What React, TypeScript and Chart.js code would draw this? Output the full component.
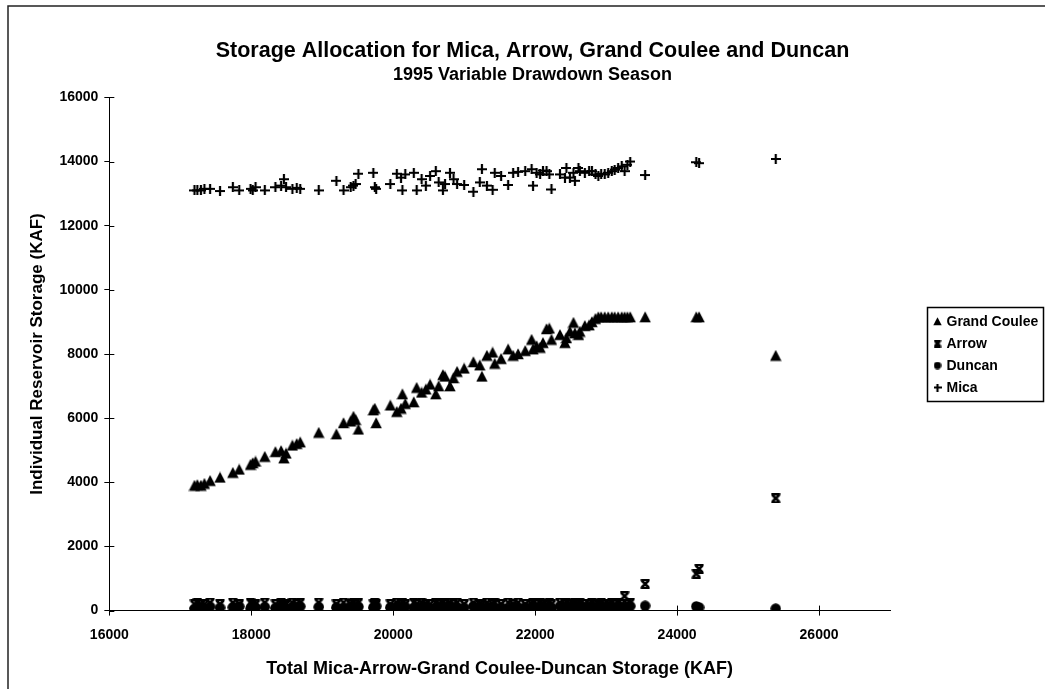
import React, { useEffect, useRef } from "react";
import { Chart, registerables } from "chart.js";

Chart.register(...registerables);

// ---------------- DATA ----------------
const titleText = "Storage Allocation for Mica, Arrow, Grand Coulee and Duncan";
const subtitleText = "1995 Variable Drawdown Season";
const xAxisTitle = "Total Mica-Arrow-Grand Coulee-Duncan Storage (KAF)";
const yAxisTitle = "Individual Reservoir Storage (KAF)";

const xTicks = [16000, 18000, 20000, 22000, 24000, 26000];
const yTicks = [0, 2000, 4000, 6000, 8000, 10000, 12000, 14000, 16000];

const seriesNames = ["Grand Coulee", "Arrow", "Duncan", "Mica"];

// total system storage (x) for each scenario
const totals = [
  17200, 17240, 17290, 17340, 17420, 17560, 17740, 17830, 17990, 18020,
  18060, 18190, 18340, 18420, 18460, 18490, 18580, 18640, 18690, 18950,
  19200, 19300, 19400, 19440, 19470, 19510, 19720, 19740, 19760, 19960,
  20050, 20110, 20130, 20170, 20290, 20330, 20400, 20460, 20520, 20600,
  20640, 20700, 20730, 20800, 20850, 20900, 21000, 21130, 21220, 21250,
  21320, 21400, 21430, 21520, 21620, 21690, 21760, 21860, 21950, 21970,
  22020, 22070, 22110, 22160, 22200, 22230, 22350, 22420, 22440, 22490,
  22540, 22560, 22610, 22630, 22700, 22760, 22800, 22850, 22890, 22930,
  22980, 23030, 23080, 23120, 23170, 23220, 23260, 23300, 23340, 23550,
  24270, 24310, 25390,
];

const grandCoulee = [
  3900, 3920, 3900, 3960, 4050, 4150, 4300, 4400, 4550, 4600,
  4650, 4800, 4950, 4980, 4750, 4900, 5150, 5200, 5250, 5550,
  5500, 5850, 5900, 6050, 5950, 5650, 6250, 6300, 5850, 6400,
  6200, 6300, 6750, 6450, 6500, 6950, 6800, 6900, 7050, 6750,
  7000, 7350, 7300, 7000, 7250, 7450, 7550, 7750, 7650, 7300,
  7950, 8050, 7700, 7850, 8150, 7950, 8000, 8100, 8450, 8150,
  8250, 8200, 8350, 8780, 8800, 8450, 8600, 8350, 8500, 8700,
  8980, 8650, 8600, 8700, 8880, 8900, 9000, 9100, 9150, 9150,
  9150, 9150, 9150, 9150, 9150, 9150, 9150, 9150, 9150, 9150,
  9150, 9150, 7950,
];

const arrow = [
  200, 250, 200, 200, 250, 200, 250, 200, 250, 200,
  200, 250, 200, 250, 200, 200, 250, 200, 250, 250,
  200, 250, 200, 250, 200, 250, 200, 250, 200, 200,
  250, 200, 250, 200, 250, 200, 250, 200, 200, 250,
  200, 250, 200, 250, 200, 250, 200, 250, 200, 200,
  250, 200, 250, 200, 250, 200, 250, 200, 200, 250,
  200, 250, 200, 200, 250, 200, 250, 200, 250, 200,
  200, 250, 200, 250, 200, 200, 250, 200, 200, 250,
  200, 200, 250, 200, 250, 200, 450, 200, 250, 830,
  1150, 1300, 3500,
];

const duncan = [
  50, 80, 100, 60, 120, 90, 100, 130, 60, 150,
  100, 110, 80, 140, 100, 60, 120, 90, 130, 110,
  100, 80, 140, 100, 60, 120, 100, 80, 140, 100,
  130, 60, 100, 120, 80, 110, 90, 140, 60, 100,
  120, 80, 110, 130, 60, 100, 90, 140, 100, 70,
  110, 130, 80, 100, 60, 120, 90, 110, 100, 130,
  70, 100, 120, 80, 110, 90, 140, 100, 60, 120,
  100, 80, 110, 130, 90, 100, 120, 60, 100, 110,
  90, 130, 100, 70, 120, 100, 80, 110, 140, 150,
  130, 100, 60,
];

const mica = [
  13100, 13100, 13100, 13150, 13150, 13080, 13200, 13100, 13150, 13100,
  13200, 13100, 13200, 13250, 13450, 13200, 13150, 13180, 13150, 13100,
  13400, 13100, 13200, 13250, 13300, 13620, 13650, 13200, 13150, 13300,
  13620, 13500, 13100, 13600, 13650, 13100, 13450, 13250, 13550, 13700,
  13350, 13100, 13300, 13650, 13450, 13300, 13270, 13060, 13350, 13760,
  13250, 13120, 13650, 13550, 13270, 13650, 13680, 13700, 13760, 13250,
  13650, 13600, 13720, 13700, 13600, 13130, 13600, 13500, 13800, 13500,
  13650, 13400, 13800, 13700, 13650, 13700, 13700, 13600, 13550, 13620,
  13600, 13650, 13700, 13750, 13800, 13850, 13700, 13900, 14000, 13580,
  13980, 13950, 14080,
];

// ---------------- STYLE HELPERS ----------------
const FONT = "'Liberation Sans', Arial, Helvetica, sans-serif";

function makeMarker(kind: string, s: number): HTMLCanvasElement {
  const c = document.createElement("canvas");
  c.width = s;
  c.height = s;
  const g = c.getContext("2d") as CanvasRenderingContext2D;
  g.fillStyle = "#000";
  g.strokeStyle = "#000";
  if (kind === "triangle") {
    g.beginPath();
    g.moveTo(s / 2, 0.3);
    g.lineTo(s - 0.3, s - 0.8);
    g.lineTo(0.3, s - 0.8);
    g.closePath();
    g.fill();
  } else if (kind === "circle") {
    g.beginPath();
    g.arc(s / 2, s / 2, s / 2 - 0.3, 0, Math.PI * 2);
    g.fill();
  } else if (kind === "plus") {
    g.lineWidth = 2.2;
    g.beginPath();
    g.moveTo(s / 2, 0);
    g.lineTo(s / 2, s);
    g.moveTo(0, s / 2);
    g.lineTo(s, s / 2);
    g.stroke();
  } else if (kind === "hourglass") {
    g.lineWidth = 2.6;
    g.beginPath();
    g.moveTo(1.5, 1.5);
    g.lineTo(s - 1.5, s - 1.5);
    g.moveTo(s - 1.5, 1.5);
    g.lineTo(1.5, s - 1.5);
    g.stroke();
    g.lineWidth = 2;
    g.beginPath();
    g.moveTo(0.5, 1);
    g.lineTo(s - 0.5, 1);
    g.moveTo(0.5, s - 1);
    g.lineTo(s - 0.5, s - 1);
    g.stroke();
  }
  return c;
}

export default function App() {
  const ref = useRef<HTMLCanvasElement | null>(null);

  useEffect(() => {
    const canvas = ref.current;
    if (!canvas) return;

    const markers = [
      makeMarker("triangle", 12),
      makeMarker("hourglass", 10),
      makeMarker("circle", 11),
      makeMarker("plus", 10),
    ];
    const legendMarkers = [
      makeMarker("triangle", 9),
      makeMarker("hourglass", 8),
      makeMarker("circle", 8),
      makeMarker("plus", 8),
    ];
    const seriesValues = [grandCoulee, arrow, duncan, mica];

    const datasets = seriesNames.map((name, i) => ({
      label: name,
      data: totals.map((t, k) => ({ x: t, y: seriesValues[i][k] })),
      pointStyle: markers[i],
      pointRadius: 6,
      pointHoverRadius: 6,
      showLine: false,
      backgroundColor: "#000",
      borderColor: "#000",
    }));

    const framePlugin = {
      id: "frame",
      beforeDraw(chart: any) {
        const c = chart.ctx;
        c.save();
        c.fillStyle = "#fff";
        c.fillRect(0, 0, chart.width, chart.height);
        c.strokeStyle = "#222";
        c.lineWidth = 1.5;
        c.beginPath();
        c.moveTo(8, chart.height);
        c.lineTo(8, 6);
        c.lineTo(chart.width, 6);
        c.stroke();
        c.restore();
      },
    };

    const innerTicksPlugin = {
      id: "innerTicks",
      afterDraw(chart: any) {
        const c = chart.ctx;
        const xs = chart.scales.x;
        const ys = chart.scales.y;
        const ca = chart.chartArea;
        c.save();
        c.strokeStyle = "#000";
        c.lineWidth = 1;
        c.beginPath();
        xs.ticks.forEach((t: any) => {
          const px = Math.round(xs.getPixelForValue(t.value)) + 0.5;
          c.moveTo(px, ca.bottom);
          c.lineTo(px, ca.bottom - 5);
        });
        ys.ticks.forEach((t: any) => {
          const py = Math.round(ys.getPixelForValue(t.value)) + 0.5;
          c.moveTo(ca.left, py);
          c.lineTo(ca.left + 5, py);
        });
        c.stroke();
        c.restore();
      },
    };

    const legendPlugin = {
      id: "boxLegend",
      afterDraw(chart: any) {
        const c = chart.ctx;
        const ca = chart.chartArea;
        const rowH = 22;
        const h = rowH * seriesNames.length + 6;
        const left = Math.round(ca.right + 37) + 0.5;
        const right = chart.width - 1.5;
        const top = Math.round((ca.top + ca.bottom) / 2 - h / 2) + 0.5;
        c.save();
        c.strokeStyle = "#000";
        c.lineWidth = 1.5;
        c.strokeRect(left, top, right - left, h);
        c.font = `bold 14px ${FONT}`;
        c.fillStyle = "#000";
        c.textBaseline = "middle";
        seriesNames.forEach((name, i) => {
          const cy = top + 3 + rowH * i + rowH / 2;
          const m = legendMarkers[i];
          c.drawImage(m, left + 10 - m.width / 2, cy - m.height / 2);
          c.fillText(name, left + 19, cy + 1);
        });
        c.restore();
      },
    };

    const chart = new Chart(canvas, {
      type: "scatter",
      data: { datasets },
      plugins: [framePlugin, innerTicksPlugin, legendPlugin],
      options: {
        animation: false,
        responsive: false,
        maintainAspectRatio: false,
        layout: { padding: { left: 20, right: 0, top: 38, bottom: 2 } },
        plugins: {
          legend: { display: false },
          tooltip: { enabled: false },
          title: {
            display: true,
            text: titleText,
            color: "#000",
            font: { family: FONT, size: 21.5, weight: "bold" },
            padding: { top: 0, bottom: 0 },
          },
          subtitle: {
            display: true,
            text: subtitleText,
            color: "#000",
            font: { family: FONT, size: 18, weight: "bold" },
            padding: { top: 0, bottom: 12 },
          },
        },
        scales: {
          x: {
            type: "linear",
            position: "bottom",
            min: 16000,
            max: 27000,
            afterBuildTicks: (axis: any) => {
              axis.ticks = xTicks.map((v) => ({ value: v }));
            },
            ticks: {
              color: "#000",
              font: { family: FONT, size: 14, weight: "bold" },
              padding: 11,
              maxRotation: 0,
              autoSkip: false,
              callback: (v: any) => String(v),
            },
            grid: {
              drawOnChartArea: false,
              drawTicks: true,
              tickLength: 5,
              color: "#000",
            },
            border: { display: true, color: "#000", width: 1 },
            title: {
              display: true,
              text: xAxisTitle,
              color: "#000",
              font: { family: FONT, size: 18, weight: "bold" },
              padding: { top: 4, bottom: 7 },
            },
          },
          y: {
            type: "linear",
            position: "left",
            min: 0,
            max: 16000,
            afterBuildTicks: (axis: any) => {
              axis.ticks = yTicks.map((v) => ({ value: v }));
            },
            ticks: {
              color: "#000",
              font: { family: FONT, size: 14, weight: "bold" },
              padding: 6,
              autoSkip: false,
              callback: (v: any) => String(v),
            },
            grid: {
              drawOnChartArea: false,
              drawTicks: true,
              tickLength: 5,
              color: "#000",
            },
            border: { display: true, color: "#000", width: 1 },
            title: {
              display: true,
              text: yAxisTitle,
              color: "#000",
              font: { family: FONT, size: 17, weight: "bold" },
              padding: { top: 7, bottom: 6 },
            },
          },
          legendSpace: {
            type: "linear",
            position: "right",
            display: true,
            ticks: { display: false },
            grid: { display: false, drawTicks: false },
            border: { display: false },
            afterFit: (scale: any) => {
              scale.width = 155;
            },
          },
        },
      },
    } as any);

    return () => chart.destroy();
  }, []);

  return (
    <div style={{ position: "fixed", left: 0, top: 0, width: 1045, height: 689, background: "#fff" }}>
      <canvas ref={ref} width={1045} height={689} style={{ display: "block", width: 1045, height: 689 }} />
    </div>
  );
}
